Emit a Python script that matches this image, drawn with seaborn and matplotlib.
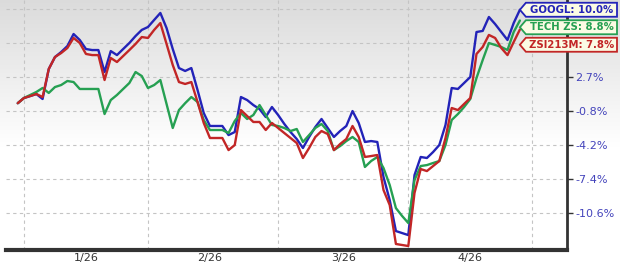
import numpy as np
import pandas as pd
import matplotlib
matplotlib.use("Agg")
import matplotlib.pyplot as plt
import seaborn as sns
from matplotlib.patches import Polygon
from matplotlib.transforms import IdentityTransform

# ---- data (cumulative % change, one value per trading session) ----
session = list(range(-1, 81))

googl = [0.0, 0.53, 0.73, 0.94, 0.43, 3.55, 4.82, 5.36, 6.00, 7.31,
         6.66, 5.68, 5.57, 5.57, 3.23, 5.46, 5.03, 5.68, 6.33, 7.09,
         7.76, 8.08, 8.86, 9.64, 7.97, 5.68, 3.65, 3.34, 3.65, 1.35,
         -1.00, -2.30, -2.30, -2.30, -3.20, -2.90, 0.63, 0.32, -0.19, -0.60,
         -1.40, -0.39, -1.20, -2.10, -2.90, -3.59, -4.47, -3.39, -2.40, -1.60,
         -2.50, -3.39, -2.80, -2.30, -0.80, -2.00, -3.88, -3.79, -3.88, -7.26,
         -9.41, -12.23, -12.41, -12.59, -7.07, -5.34, -5.44, -4.86, -4.18, -2.20,
         1.56, 1.46, 2.08, 2.71, 7.53, 7.65, 9.19, 8.41, 7.53, 6.66,
         8.52, 10.0]

tech_zs = [0.0, 0.53, 0.84, 1.15, 1.56, 1.05, 1.66, 1.87, 2.29, 2.18,
           1.46, 1.46, 1.46, 1.46, -1.10, 0.32, 0.84, 1.46, 2.08, 3.23,
           2.81, 1.56, 1.87, 2.39, -0.08, -2.50, -0.70, 0.0, 0.63, 0.12,
           -1.70, -2.70, -2.70, -2.70, -3.00, -1.80, -1.00, -1.60, -1.20, -0.19,
           -1.20, -2.20, -2.30, -2.50, -2.80, -2.60, -3.88, -3.20, -2.50, -2.10,
           -2.80, -4.67, -4.28, -3.79, -3.39, -3.88, -6.30, -5.73, -5.34, -6.40,
           -8.01, -10.15, -10.87, -11.51, -7.54, -6.21, -6.12, -5.92, -5.73, -4.18,
           -1.70, -1.10, -0.39, 0.43, 2.60, 4.50, 6.33, 6.12, 5.90, 5.57,
           7.53, 8.8]

zsi213m = [0.0, 0.53, 0.73, 0.94, 0.63, 3.55, 4.82, 5.25, 5.79, 6.88,
           6.33, 5.15, 5.03, 5.03, 2.39, 4.72, 4.29, 4.93, 5.57, 6.23,
           6.98, 6.88, 7.76, 8.52, 6.23, 3.97, 2.18, 1.98, 2.18, 0.12,
           -2.00, -3.49, -3.49, -3.49, -4.67, -4.18, -0.70, -1.30, -1.90, -1.90,
           -2.70, -2.00, -2.50, -3.00, -3.49, -3.98, -5.44, -4.47, -3.39, -2.80,
           -3.10, -4.67, -4.08, -3.59, -2.30, -3.39, -5.34, -5.25, -5.15, -8.48,
           -9.87, -13.38, -13.47, -13.56, -8.75, -6.50, -6.69, -6.21, -5.73, -3.49,
           -0.49, -0.70, -0.08, 0.53, 5.15, 5.90, 7.21, 6.88, 5.79, 5.03,
           6.44, 7.8]

series_names = ["GOOGL", "TECH ZS", "ZSI213M"]
series_values = [googl, tech_zs, zsi213m]
series_colors = ["#2323b8", "#26a052", "#c22626"]

month_starts = [0, 20, 41, 62, 82]
month_label_pos = [10, 30, 51.5, 72]
month_labels = ["1/26", "2/26", "3/26", "4/26"]

y_ticks = [-10.6, -7.45, -4.18, -0.80, 2.71, 6.33, 10.09]
y_tick_labels = ["-10.6%", "-7.4%", "-4.2%", "-0.8%", "2.7%", "", ""]

# ---- figure ----
sns.set_theme(style="white")
plt.rcParams["font.family"] = ["DejaVu Sans"]

W, H = 620, 266
fig = plt.figure(figsize=(W / 100, H / 100), dpi=100)

# background gradient (gray at top fading to white)
bg = fig.add_axes([0, 0, 1, 1], zorder=-1)
g = np.linspace(0, 1, 256)
v = np.clip(0.86 + 0.14 * g / 0.55, 0, 1)
bg.imshow(np.dstack([v, v, v]).reshape(256, 1, 3), aspect="auto", extent=[0, 1, 0, 1])
bg.set_axis_off()

ax = fig.add_axes([6 / W, 16 / H, 561 / W, 250 / H])
ax.patch.set_alpha(0)

df = pd.DataFrame({
    "session": session * len(series_names),
    "pct": sum(series_values, []),
    "series": sum([[n] * len(session) for n in series_names], []),
})

ax.set_yscale("function", functions=(lambda u: np.log1p(np.asarray(u) / 100.0),
                                     lambda u: np.expm1(np.asarray(u)) * 100.0))

sns.lineplot(data=df, x="session", y="pct", hue="series",
             palette=dict(zip(series_names, series_colors)),
             linewidth=1.7, legend=False, ax=ax, estimator=None, sort=False)

ax.set_xlim(-2.9, 87.6)
ax.set_ylim(-13.91, 11.10)

ax.set_yticks(y_ticks)
ax.set_yticklabels(y_tick_labels)
ax.yaxis.tick_right()
ax.tick_params(axis="y", which="major", direction="out", length=4, width=1,
               color="#333333", pad=2, labelsize=8, labelcolor="#4343bb")

ax.set_xticks(month_starts)
ax.set_xticklabels([""] * len(month_starts))
ax.set_xticks(month_label_pos, minor=True)
ax.set_xticklabels(month_labels, minor=True)
ax.tick_params(axis="x", which="both", length=0, labelsize=8, labelcolor="#333333", pad=2)

ax.grid(True, which="major", axis="both", color="#c4c4c4",
        linestyle=(0, (3, 3)), linewidth=0.8)
ax.set_xlabel("")
ax.set_ylabel("")

for s in ["left", "top"]:
    ax.spines[s].set_visible(False)
ax.spines["bottom"].set_color("#333333")
ax.spines["bottom"].set_linewidth(3)
ax.spines["right"].set_color("#333333")
ax.spines["right"].set_linewidth(2)

# ---- end-value tags ----
fig.canvas.draw()
order = sorted(range(len(series_names)), key=lambda i: -series_values[i][-1])
prev = None
for i in order:
    x_end, y_end = ax.transData.transform((session[-1], series_values[i][-1]))
    top_px = H - y_end
    if prev is not None:
        top_px = max(top_px, prev + 17.5)
    top_px = max(top_px, 8)
    prev = top_px
    yc = H - top_px
    x_tip = x_end
    x_right = 617
    hh = 7
    poly = Polygon([(x_tip, yc), (x_tip + 6, yc + hh), (x_right, yc + hh),
                    (x_right, yc - hh), (x_tip + 6, yc - hh)], closed=True,
                   facecolor="#fbfbe4", edgecolor=series_colors[i], linewidth=1.3,
                   transform=IdentityTransform(), zorder=5)
    fig.add_artist(poly)
    fig.text((x_tip + 6 + x_right) / 2 / W, yc / H,
             f"{series_names[i]}: {series_values[i][-1]:.1f}%",
             ha="center", va="center", fontsize=7.3, fontweight="bold",
             color=series_colors[i], zorder=6)

fig.savefig("out.png", dpi=100)
